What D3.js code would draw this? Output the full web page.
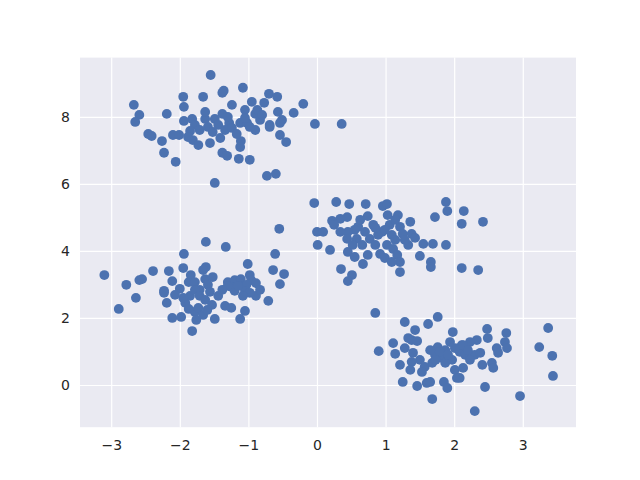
<!DOCTYPE html>
<html>
<head>
<meta charset="utf-8">
<script src="https://cdn.jsdelivr.net/npm/d3@7"></script>
<style>
  html, body { margin: 0; padding: 0; background: #ffffff; }
  svg { display: block; }
</style>
</head>
<body>
<svg id="chart" width="640" height="480"></svg>
<script>
// Cluster A (top-left)
const clusterAx = [-1.55,-1.95,-1.66,-1.38,-2.67,-1.94,-2.19,-2.59,-2.65,-1.82,-1.63,-1.49,-1.38,-1.08,-1.36,-0.70,-0.58,-0.95,-0.77,-0.20,-1.24,-0.34,-0.57,-0.90,-1.05,-0.51,-0.03,-0.69,0.36,-2.46,-2.41,-2.26,-2.10,-2.01,-2.23,-2.06,-1.81,-1.73,-1.56,-1.49,-1.38,-0.90,-0.69,-0.54,-0.54,-0.45,-1.11,-1.12,-1.31,-1.14,-0.98,-0.73,-0.60,-1.28,-1.12,-1.02,-1.78,-1.71,-1.59,-1.52,-1.44,-1.34,-1.24,-1.17,-1.05,-0.98,-0.83,-1.85,-1.63,-1.30,-0.87,-0.80,-1.41,-1.94,-1.88];
const clusterAy = [9.25,8.60,8.60,8.72,8.36,8.30,8.09,8.06,7.85,7.94,7.94,7.94,8.09,8.87,8.78,8.69,8.60,8.45,8.42,8.39,8.36,8.12,8.15,8.09,8.21,7.91,7.79,7.76,7.79,7.49,7.43,7.28,7.46,7.46,6.93,6.66,7.31,7.16,7.22,6.03,6.93,7.61,7.70,7.82,7.46,7.25,7.28,7.10,6.84,6.75,6.72,6.24,6.30,7.82,7.82,7.82,7.76,7.61,7.70,7.55,7.76,7.61,7.67,7.49,7.97,7.70,7.91,7.58,8.15,8.00,8.21,8.06,7.37,7.88,7.40];
// Cluster B (middle-left)
const clusterBx = [-1.94,-1.95,-3.10,-2.39,-2.16,-2.78,-2.59,-2.55,-2.11,-2.00,-1.87,-2.23,-1.62,-1.33,-0.61,-0.55,-1.01,-0.64,-0.48,-0.54,-1.62,-1.66,-1.84,-1.78,-1.63,-1.52,-1.59,-1.71,-1.30,-1.20,-1.11,-0.98,-0.96,-1.03,-1.25,-2.64,-2.89,-2.23,-2.19,-2.11,-1.98,-1.92,-1.87,-1.85,-1.82,-0.71,-0.89,-1.05,-1.12,-1.34,-1.25,-1.49,-1.20,-1.05,-0.98,-1.30,-1.78,-1.71,-1.63,-1.78,-1.73,-1.56,-1.66,-1.76,-1.44,-1.38,-1.53,-1.15,-1.08,-1.95,-2.07,-1.60,-0.89,-0.83];
const clusterBy = [3.91,3.49,3.28,3.40,3.40,2.99,3.13,3.16,3.10,2.87,3.07,2.81,4.27,4.12,3.91,4.66,3.61,3.43,3.31,3.01,3.52,3.43,3.28,3.07,3.16,3.22,2.99,2.84,3.07,3.13,3.16,3.28,3.13,2.99,2.93,2.60,2.27,2.75,2.45,2.00,2.03,2.45,2.27,2.66,1.61,2.51,2.66,2.21,1.97,2.36,2.30,1.97,2.81,2.81,2.75,2.96,2.84,2.66,2.54,2.18,2.30,2.78,2.09,1.94,2.66,2.84,2.39,2.96,2.66,2.60,2.69,2.24,3.04,2.84];
// Cluster C (middle-right)
const clusterCx = [-0.04,0.28,0.47,0.71,0.96,1.02,0.74,0.44,0.34,0.22,0.25,0.82,0.00,0.09,0.01,0.19,0.60,0.55,0.45,0.44,0.58,0.66,0.77,0.52,0.45,0.55,0.74,0.67,0.92,0.95,0.89,0.35,0.51,0.45,0.85,1.03,1.06,1.09,0.99,1.02,1.11,1.17,1.21,1.21,1.88,1.90,2.14,1.72,1.18,1.36,2.11,2.42,1.21,1.25,1.38,1.43,1.33,1.55,1.69,1.88,1.14,1.50,1.66,1.66,2.11,2.35,0.63,0.85,1.14,1.28,0.34,0.99,0.85,0.70,1.09];
const clusterCy = [5.43,5.46,5.40,5.40,5.34,5.40,5.04,5.01,4.96,4.90,4.78,4.78,4.57,4.57,4.18,4.03,4.72,4.63,4.57,4.36,4.36,4.18,4.36,4.18,3.97,3.82,3.88,3.61,3.91,4.57,4.48,3.46,3.28,3.10,2.15,5.07,4.78,4.48,4.63,4.18,4.06,3.88,3.67,3.37,5.46,5.19,5.19,5.01,5.07,4.87,4.81,4.87,4.72,4.51,4.51,4.39,4.18,4.21,4.21,4.18,4.33,3.85,3.67,3.52,3.49,3.43,4.93,4.18,4.93,4.33,4.57,3.79,4.69,4.57,3.67];
// Cluster D (bottom-right)
const clusterDx = [1.28,1.76,1.62,1.43,1.98,0.90,1.11,1.14,1.33,1.38,1.46,1.28,1.40,1.50,1.38,1.21,1.57,1.68,1.72,1.76,1.87,1.82,1.87,1.97,2.01,2.04,2.08,2.11,1.25,1.46,1.60,1.65,1.85,1.90,1.68,3.37,3.24,3.43,3.44,2.48,2.76,2.49,2.74,2.62,2.77,2.64,2.33,2.23,2.13,2.16,2.30,2.38,2.41,2.55,2.57,2.13,2.08,2.45,2.96,2.30,1.79,1.91,1.73,2.01,1.53,1.36,2.23,2.20,1.65,1.94];
const clusterDy = [1.88,2.03,1.82,1.64,1.58,1.01,1.25,0.93,1.40,1.34,1.31,1.10,0.96,0.75,0.69,0.60,0.54,0.66,0.90,1.13,1.04,0.81,0.66,0.75,0.45,0.21,0.99,1.19,0.09,-0.03,0.06,0.09,0.09,-0.09,-0.42,1.70,1.13,0.87,0.27,1.67,1.55,1.40,1.28,1.10,1.10,0.96,1.34,1.28,1.19,0.90,0.90,0.96,0.60,0.66,0.51,0.51,0.21,-0.06,-0.33,-0.78,0.99,0.90,0.75,1.10,0.39,0.45,0.75,1.04,1.04,1.28];

const xTicks = [-3,-2,-1,0,1,2,3];
const yTicks = [0,2,4,6,8];
const xDomain = [-3.455, 3.776];
const yDomain = [-1.26, 9.77];

const W = 640, H = 480;
const M = {left: 80, right: 64, top: 57.6, bottom: 52.8};
const svg = d3.select('#chart');
const x = d3.scaleLinear().domain(xDomain).range([M.left, W - M.right]);
const y = d3.scaleLinear().domain(yDomain).range([H - M.bottom, M.top]);

svg.append('rect')
  .attr('x', M.left).attr('y', M.top)
  .attr('width', W - M.left - M.right).attr('height', H - M.top - M.bottom)
  .attr('fill', '#EAEAF2');

const fmt = d => d < 0 ? '\u2212' + Math.abs(d) : String(d);

const gx = svg.append('g')
  .attr('transform', `translate(0,${H - M.bottom})`)
  .call(d3.axisBottom(x).tickValues(xTicks).tickFormat(fmt).tickSize(-(H - M.top - M.bottom)).tickPadding(13));
const gy = svg.append('g')
  .attr('transform', `translate(${M.left},0)`)
  .call(d3.axisLeft(y).tickValues(yTicks).tickFormat(fmt).tickSize(-(W - M.left - M.right)).tickPadding(10));

[gx, gy].forEach(g => {
  g.select('.domain').remove();
  g.selectAll('.tick line').attr('stroke', '#ffffff').attr('stroke-width', 1.2);
  g.selectAll('.tick text')
    .attr('fill', '#262626')
    .style('font-family', '"DejaVu Sans", sans-serif')
    .style('font-size', '14px');
});

const points = [];
[[clusterAx, clusterAy], [clusterBx, clusterBy], [clusterCx, clusterCy], [clusterDx, clusterDy]]
  .forEach(([xs, ys]) => xs.forEach((v, i) => points.push([v, ys[i]])));

svg.append('g').selectAll('circle')
  .data(points)
  .join('circle')
  .attr('cx', d => x(d[0]))
  .attr('cy', d => y(d[1]))
  .attr('r', 4.9)
  .attr('fill', '#4C72B0');
</script>
</body>
</html>
